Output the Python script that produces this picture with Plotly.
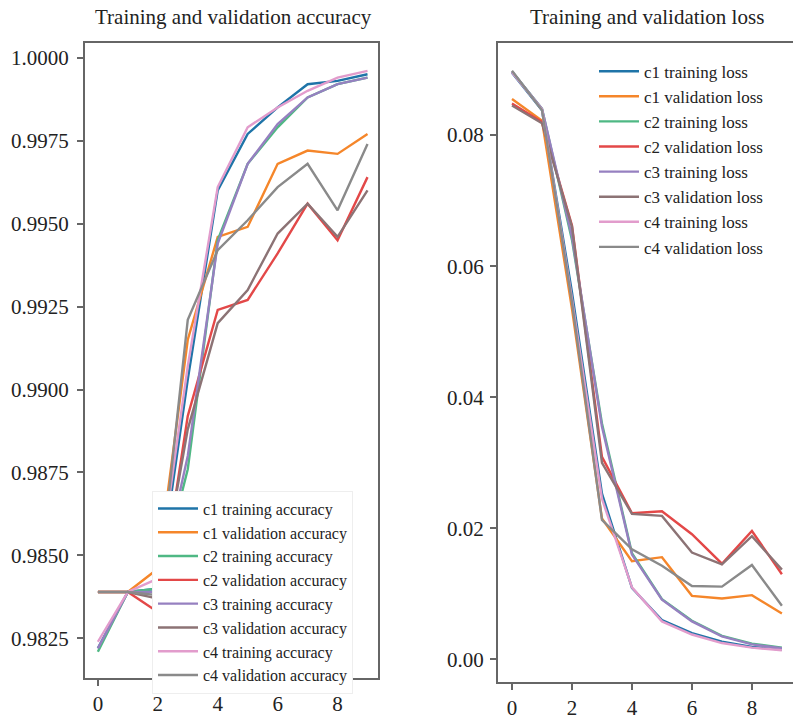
import plotly.graph_objects as go

epochs = list(range(10))

series_names = ["c1", "c2", "c3", "c4"]
colors_train = ["#1f74a8", "#4fb884", "#9680c0", "#e29ccc"]
colors_val = ["#f5862a", "#e34848", "#8c7375", "#8a8a8a"]

# Accuracy
acc_train = {
    "c1": [0.9822, 0.9839, 0.9840, 0.9903, 0.9960, 0.9977, 0.9985, 0.9992, 0.9993, 0.9995],
    "c2": [0.9821, 0.9839, 0.9840, 0.9876, 0.9945, 0.9968, 0.9979, 0.9988, 0.9992, 0.9994],
    "c3": [0.9822, 0.9839, 0.9839, 0.9880, 0.9944, 0.9968, 0.9980, 0.9988, 0.9992, 0.9994],
    "c4": [0.9824, 0.9839, 0.9843, 0.9907, 0.9961, 0.9979, 0.9985, 0.9990, 0.9994, 0.9996],
}
acc_val = {
    "c1": [0.9839, 0.9839, 0.9846, 0.9915, 0.9946, 0.9949, 0.9968, 0.9972, 0.9971, 0.9977],
    "c2": [0.9839, 0.9839, 0.9833, 0.9892, 0.9924, 0.9927, 0.9941, 0.9956, 0.9945, 0.9964],
    "c3": [0.9839, 0.9839, 0.9837, 0.9888, 0.9920, 0.9930, 0.9947, 0.9956, 0.9946, 0.9960],
    "c4": [0.9839, 0.9839, 0.9838, 0.9921, 0.9942, 0.9951, 0.9961, 0.9968, 0.9954, 0.9974],
}

# Loss
loss_train = {
    "c1": [0.0895, 0.0838, 0.0560, 0.0253, 0.0109, 0.0060, 0.0040, 0.0027, 0.0019, 0.0015],
    "c2": [0.0897, 0.0840, 0.0640, 0.0360, 0.0162, 0.0092, 0.0059, 0.0036, 0.0024, 0.0018],
    "c3": [0.0897, 0.0840, 0.0645, 0.0355, 0.0160, 0.0091, 0.0058, 0.0035, 0.0023, 0.0017],
    "c4": [0.0896, 0.0839, 0.0550, 0.0245, 0.0110, 0.0058, 0.0038, 0.0025, 0.0018, 0.0014],
}
loss_val = {
    "c1": [0.0855, 0.0822, 0.0535, 0.0215, 0.0150, 0.0156, 0.0097, 0.0093, 0.0098, 0.0070],
    "c2": [0.0848, 0.0820, 0.0662, 0.0309, 0.0223, 0.0226, 0.0191, 0.0146, 0.0196, 0.0130],
    "c3": [0.0845, 0.0818, 0.0660, 0.0300, 0.0222, 0.0219, 0.0163, 0.0145, 0.0188, 0.0137],
    "c4": [0.0898, 0.0838, 0.0545, 0.0213, 0.0168, 0.0143, 0.0112, 0.0111, 0.0144, 0.0082],
}

acc_ticks = [0.9825, 0.9850, 0.9875, 0.9900, 0.9925, 0.9950, 0.9975, 1.0000]
loss_ticks = [0.00, 0.02, 0.04, 0.06, 0.08]
x_ticks = [0, 2, 4, 6, 8]

FONT = "Liberation Serif"
FRAME = "#666666"
LW = 2.4

fig = go.Figure()

for i, s in enumerate(series_names):
    fig.add_trace(go.Scatter(x=epochs, y=acc_train[s], mode="lines", name=f"{s} training accuracy",
                             line=dict(color=colors_train[i], width=LW), xaxis="x", yaxis="y", legend="legend"))
    fig.add_trace(go.Scatter(x=epochs, y=acc_val[s], mode="lines", name=f"{s} validation accuracy",
                             line=dict(color=colors_val[i], width=LW), xaxis="x", yaxis="y", legend="legend"))
for i, s in enumerate(series_names):
    fig.add_trace(go.Scatter(x=epochs, y=loss_train[s], mode="lines", name=f"{s} training loss",
                             line=dict(color=colors_train[i], width=LW), xaxis="x2", yaxis="y2", legend="legend2"))
    fig.add_trace(go.Scatter(x=epochs, y=loss_val[s], mode="lines", name=f"{s} validation loss",
                             line=dict(color=colors_val[i], width=LW), xaxis="x2", yaxis="y2", legend="legend2"))

axis_common = dict(showgrid=False, zeroline=False, showline=True, linecolor=FRAME, linewidth=2,
                   ticks="outside", ticklen=6, tickwidth=1.5, tickcolor=FRAME,
                   tickfont=dict(family=FONT, size=21, color="#222222"))

fig.update_layout(
    width=793, height=720,
    margin=dict(l=0, r=0, t=0, b=0),
    paper_bgcolor="white", plot_bgcolor="white",
    showlegend=True,
    xaxis=dict(domain=[85/793, 378/793], range=[-0.43, 9.35], tickvals=x_ticks, mirror=True,
               anchor="y", **axis_common),
    yaxis=dict(domain=[1-683/720, 1-43/720], range=[0.98130, 1.00045], tickvals=acc_ticks,
               tickformat=".4f", mirror=True, anchor="x", ticklabelstandoff=4, **axis_common),
    xaxis2=dict(domain=[498/793, 1.0], range=[-0.467, 9.37], tickvals=x_ticks, mirror=True,
                anchor="y2", **axis_common),
    yaxis2=dict(domain=[1-687/720, 1-43/720], range=[-0.00348, 0.09409], tickvals=loss_ticks,
                tickformat=".2f", mirror=False, anchor="x2", ticklabelstandoff=2, **axis_common),
    legend=dict(x=152/793, y=1-494/720, xanchor="left", yanchor="top", bgcolor="white",
                bordercolor="#eeeeee", borderwidth=1, itemwidth=40,
                font=dict(family=FONT, size=16, color="#222222"), tracegroupgap=0),
    legend2=dict(x=594/793, y=1-54/720, xanchor="left", yanchor="top", bgcolor="rgba(255,255,255,0)",
                 borderwidth=0, itemwidth=40,
                 font=dict(family=FONT, size=17, color="#222222"), tracegroupgap=0),
    annotations=[
        dict(text="Training and validation accuracy", x=233/793, y=1-17/720, xref="paper", yref="paper",
             showarrow=False, xanchor="center", yanchor="middle",
             font=dict(family=FONT, size=21, color="#222222")),
        dict(text="Training and validation loss", x=647/793, y=1-17/720, xref="paper", yref="paper",
             showarrow=False, xanchor="center", yanchor="middle",
             font=dict(family=FONT, size=21, color="#222222")),
    ],
)

fig.write_html("out.html")
